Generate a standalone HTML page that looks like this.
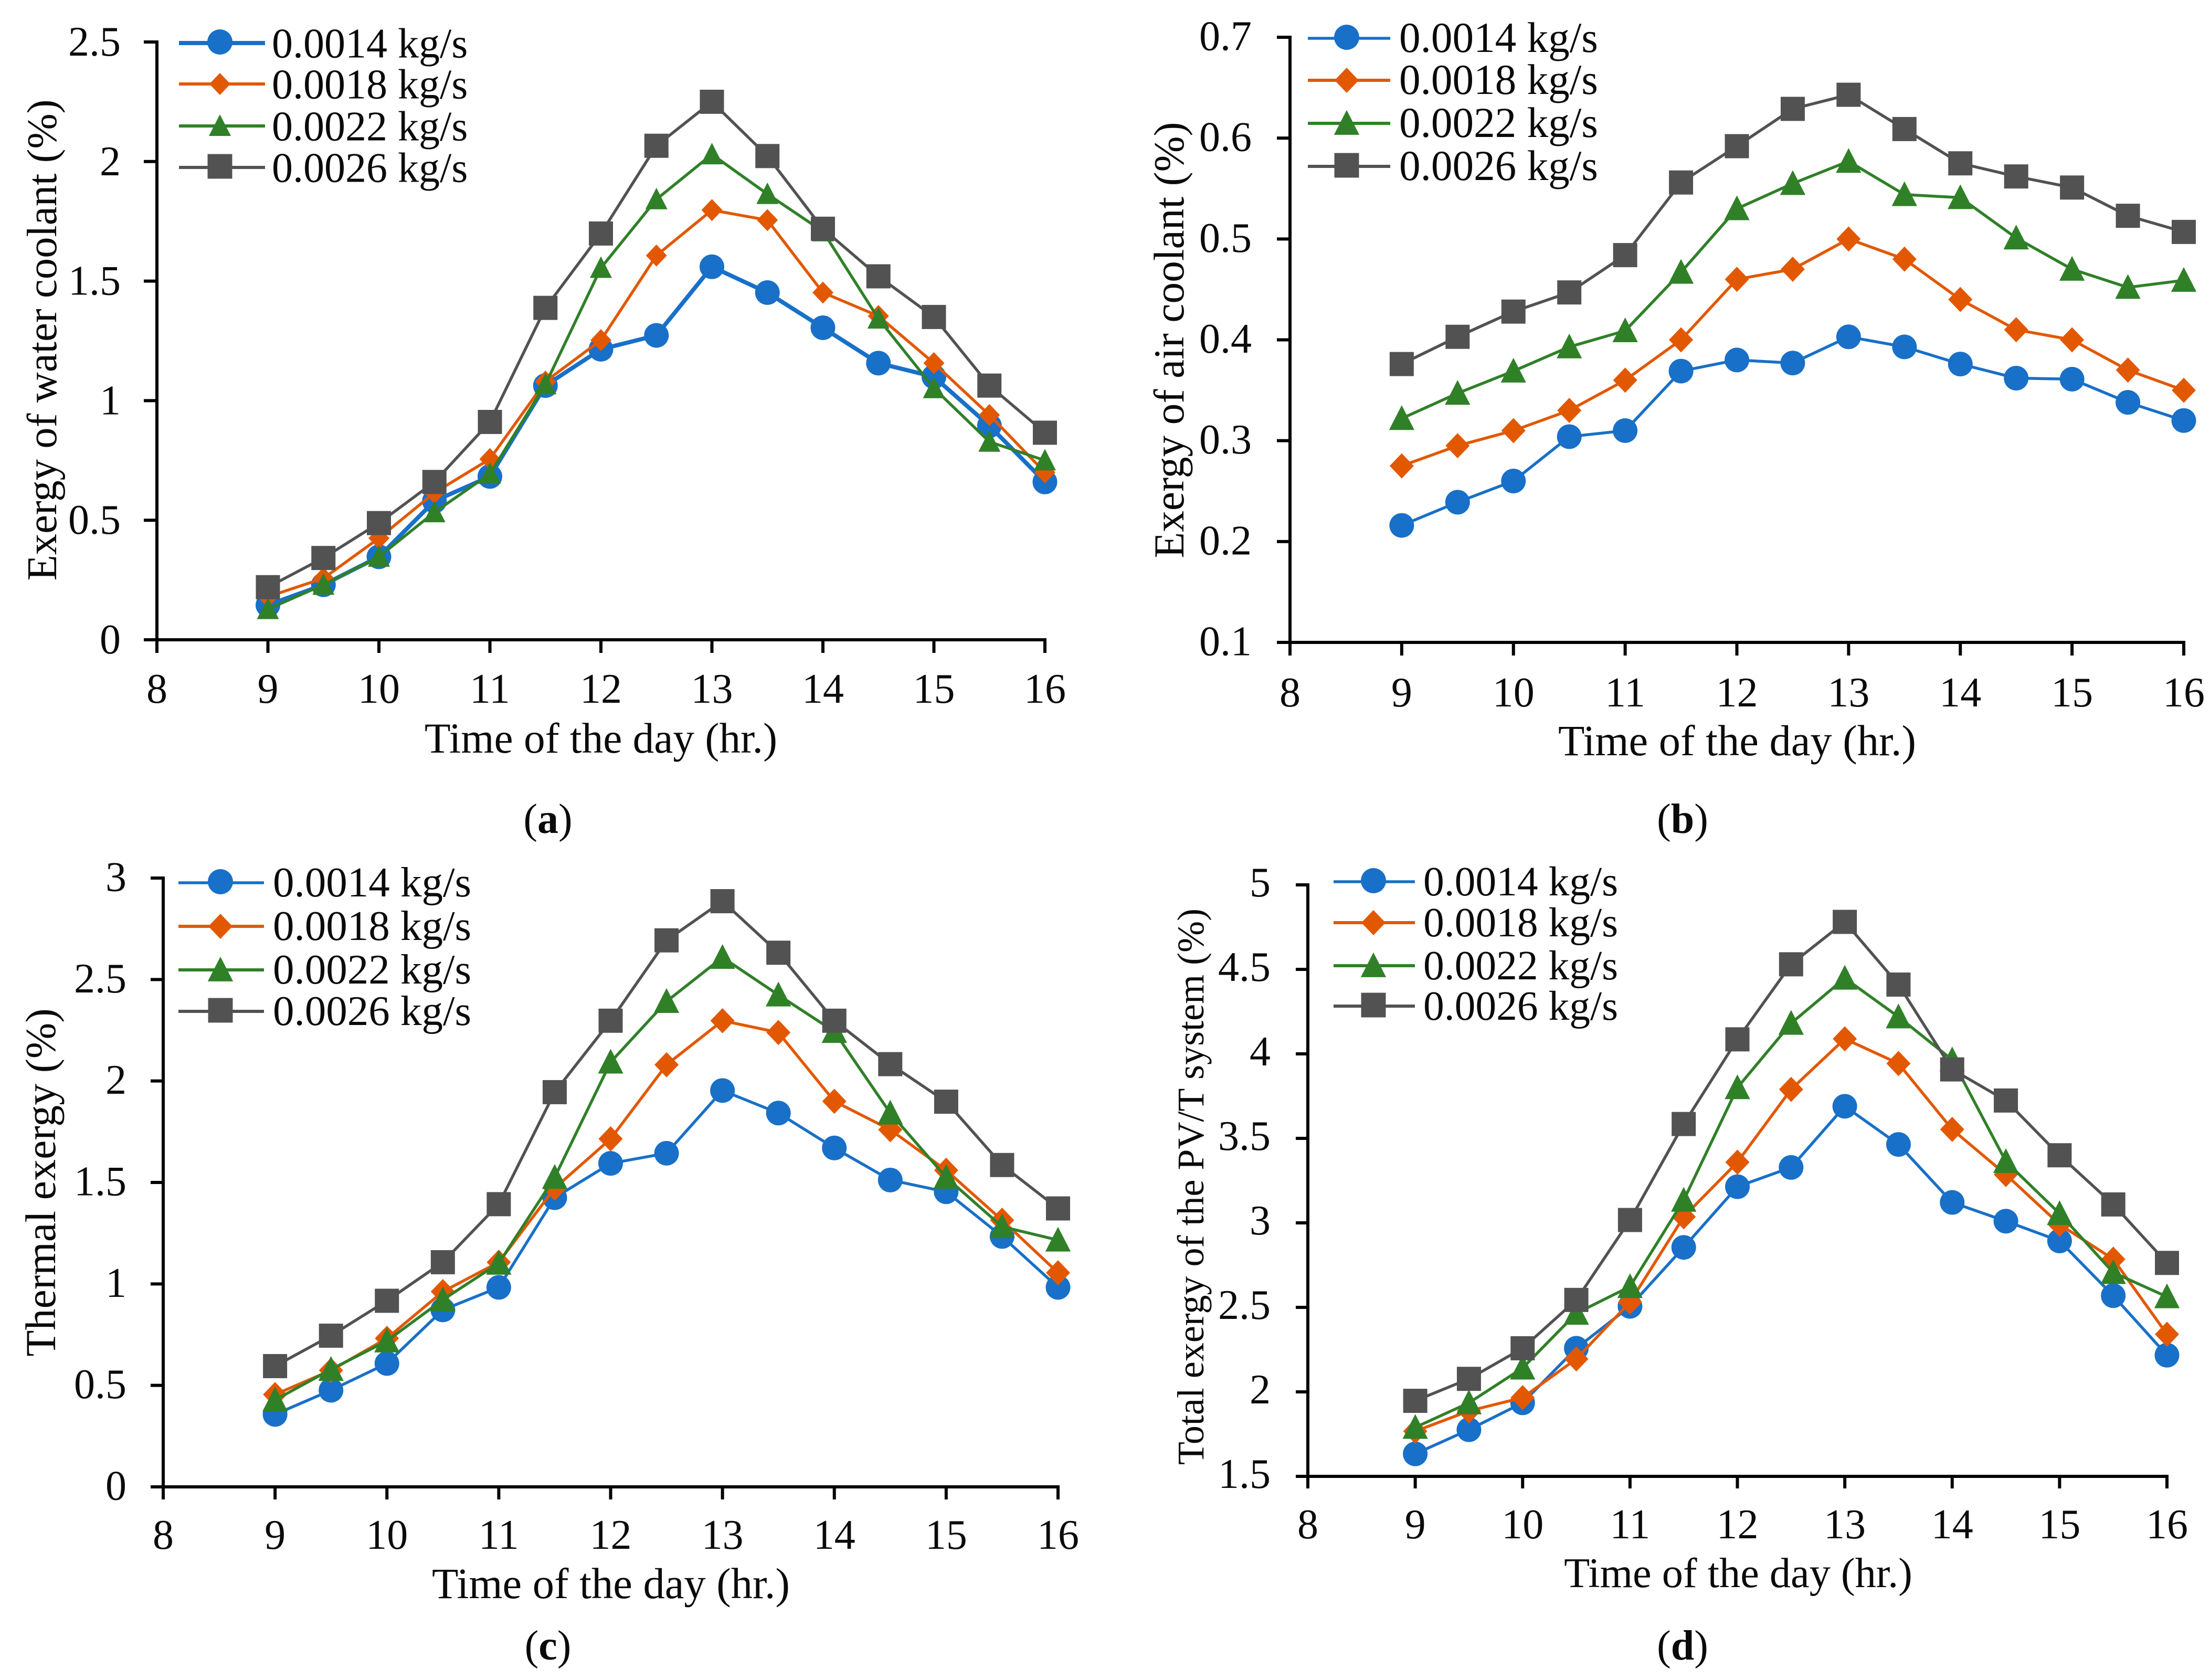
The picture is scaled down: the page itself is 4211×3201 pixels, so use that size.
<!DOCTYPE html>
<html lang="en">
<head>
<meta charset="utf-8">
<title>Exergy of PV/T system by mass flow rate</title>
<style>
html,body{margin:0;padding:0;background:#fff;}
svg{display:block;}
text{font-family:"Liberation Serif","Times New Roman",serif;fill:#0a0a0a;}
</style>
</head>
<body>
<svg id="figure" xmlns="http://www.w3.org/2000/svg" width="4211" height="3201" viewBox="0 0 4211 3201">
  <rect width="4211" height="3201" fill="#ffffff"/>

  <text font-size="80.7" text-anchor="middle" transform="translate(107 648) rotate(-90)">Exergy of water coolant (%)</text>
  <text font-size="81.3" text-anchor="middle" x="1145" y="1434">Time of the day (hr.)</text>
  <text font-size="80" text-anchor="middle" x="1044" y="1587">(<tspan font-weight="bold">a</tspan>)</text>

  <text font-size="81.5" text-anchor="middle" transform="translate(2255 648) rotate(-90)">Exergy of air coolant (%)</text>
  <text font-size="82.5" text-anchor="middle" x="3310" y="1439">Time of the day (hr.)</text>
  <text font-size="80" text-anchor="middle" x="3206" y="1587">(<tspan font-weight="bold">b</tspan>)</text>

  <text font-size="82" text-anchor="middle" transform="translate(105 2253) rotate(-90)">Thermal exergy (%)</text>
  <text font-size="82.5" text-anchor="middle" x="1164" y="3045">Time of the day (hr.)</text>
  <text font-size="80" text-anchor="middle" x="1044" y="3162">(<tspan font-weight="bold">c</tspan>)</text>

  <text font-size="72" text-anchor="middle" transform="translate(2293 2261) rotate(-90)">Total exergy of the PV/T system (%)</text>
  <text font-size="80.3" text-anchor="middle" x="3312" y="3024">Time of the day (hr.)</text>
  <text font-size="80" text-anchor="middle" x="3206" y="3162">(<tspan font-weight="bold">d</tspan>)</text>
</svg>
<script>
// ---- chart data ----
const hours = [9,9.5,10,10.5,11,11.5,12,12.5,13,13.5,14,14.5,15,15.5,16];
const xTickValues = [8,9,10,11,12,13,14,15,16];
const seriesLabels = ['0.0014 kg/s','0.0018 kg/s','0.0022 kg/s','0.0026 kg/s'];

const yTicksA = [0,0.5,1,1.5,2,2.5];
const waterCoolant0014 = [0.145,0.23,0.347,0.58,0.683,1.063,1.215,1.273,1.56,1.452,1.305,1.157,1.10,0.895,0.66];
const waterCoolant0018 = [0.18,0.257,0.425,0.615,0.756,1.08,1.253,1.607,1.797,1.755,1.452,1.354,1.157,0.94,0.70];
const waterCoolant0022 = [0.128,0.23,0.347,0.533,0.694,1.068,1.555,1.842,2.03,1.864,1.708,1.343,1.052,0.828,0.75];
const waterCoolant0026 = [0.22,0.342,0.488,0.66,0.911,1.388,1.699,2.066,2.25,2.023,1.719,1.52,1.35,1.063,0.866];

const yTicksB = [0.1,0.2,0.3,0.4,0.5,0.6,0.7];
const airCoolant0014 = [0.216,0.239,0.26,0.304,0.31,0.369,0.38,0.377,0.403,0.393,0.376,0.362,0.361,0.338,0.32];
const airCoolant0018 = [0.275,0.295,0.31,0.33,0.36,0.40,0.46,0.47,0.50,0.48,0.44,0.41,0.40,0.37,0.35];
const airCoolant0022 = [0.322,0.347,0.369,0.393,0.409,0.467,0.53,0.555,0.577,0.544,0.541,0.501,0.47,0.452,0.459];
const airCoolant0026 = [0.376,0.403,0.428,0.447,0.484,0.556,0.592,0.629,0.643,0.609,0.575,0.562,0.551,0.523,0.507];

const yTicksC = [0,0.5,1,1.5,2,2.5,3];
const thermal0014 = [0.357,0.476,0.608,0.872,0.983,1.425,1.594,1.644,1.953,1.842,1.67,1.512,1.454,1.234,0.983];
const thermal0018 = [0.455,0.574,0.732,0.962,1.107,1.472,1.715,2.08,2.297,2.239,1.90,1.76,1.56,1.314,1.055];
const thermal0022 = [0.428,0.579,0.719,0.922,1.102,1.525,2.093,2.392,2.609,2.424,2.244,1.842,1.525,1.282,1.216];
const thermal0026 = [0.595,0.745,0.917,1.107,1.393,1.945,2.297,2.693,2.886,2.632,2.297,2.083,1.898,1.586,1.372];

const yTicksD = [1.5,2,2.5,3,3.5,4,4.5,5];
const total0014 = [1.633,1.776,1.935,2.258,2.506,2.855,3.214,3.328,3.69,3.464,3.121,3.01,2.893,2.569,2.217];
const total0018 = [1.767,1.887,1.966,2.195,2.531,3.036,3.359,3.79,4.089,3.943,3.553,3.286,2.991,2.785,2.341];
const total0022 = [1.79,1.935,2.141,2.465,2.623,3.134,3.8,4.181,4.448,4.219,3.965,3.363,3.055,2.706,2.563];
const total0026 = [1.947,2.077,2.258,2.544,3.017,3.585,4.086,4.53,4.781,4.41,3.908,3.724,3.4,3.109,2.763];

// ---- layout ----
const NS = 'http://www.w3.org/2000/svg';
const figure = document.getElementById('figure');
const seriesColors = ['#1870c8','#e25800','#308028','#525252'];
const seriesShapes = ['circle','diamond','triangle','square'];

const panels = [
  {id:'a', series:[waterCoolant0014,waterCoolant0018,waterCoolant0022,waterCoolant0026], yTicks:yTicksA,
   left:299, right:1991, bottom:1219, top:80, tickLabelRight:230, tickLen:25, yLabelDy:26, xLabelDy:120, blueWidth:8, sharp:1,
   legendLine:[341,505], legendMarker:419, legendText:518, legendRows:[82,160,240,319], legendTextDy:27.5, legendFont:80},
  {id:'b', series:[airCoolant0014,airCoolant0018,airCoolant0022,airCoolant0026], yTicks:yTicksB,
   left:2458, right:4161, bottom:1224, top:71, tickLabelRight:2385, tickLen:25, yLabelDy:24.5, xLabelDy:122, blueWidth:5.5, sharp:1.15,
   legendLine:[2492,2649], legendMarker:2566, legendText:2666, legendRows:[73,153,235,317], legendTextDy:26, legendFont:81.2},
  {id:'c', series:[thermal0014,thermal0018,thermal0022,thermal0026], yTicks:yTicksC,
   left:311, right:2016, bottom:2833, top:1673, tickLabelRight:241, tickLen:24, yLabelDy:24.5, xLabelDy:118, blueWidth:5.5, sharp:1.15,
   legendLine:[340,503], legendMarker:420, legendText:520, legendRows:[1682,1765,1848,1927], legendTextDy:26, legendFont:81},
  {id:'d', series:[total0014,total0018,total0022,total0026], yTicks:yTicksD,
   left:2492, right:4129, bottom:2813, top:1686, tickLabelRight:2421, tickLen:23, yLabelDy:22, xLabelDy:118, blueWidth:5.5, sharp:1.15,
   legendLine:[2541,2696], legendMarker:2617, legendText:2712, legendRows:[1680,1758,1840,1917], legendTextDy:26, legendFont:79.5}
];

function xScale(p, v){ return p.left + (v - 8) / 8 * (p.right - p.left); }
function yScale(p, v){
  const lo = p.yTicks[0], hi = p.yTicks[p.yTicks.length - 1];
  return p.bottom - (v - lo) / (hi - lo) * (p.bottom - p.top);
}
function make(tag, attrs, parent){
  const el = document.createElementNS(NS, tag);
  for (const k in attrs) el.setAttribute(k, attrs[k]);
  parent.appendChild(el);
  return el;
}
function drawMarker(shape, x, y, color, parent, size, sharp){
  let el;
  if (shape === 'circle') {
    el = make('ellipse', {cx:x, cy:y, rx:23.5*size, ry:23.5*size, fill:color}, parent);
  } else if (shape === 'diamond') {
    const h = 20*sharp;
    el = make('polygon', {points:`${x-h},${y} ${x},${y-h-1} ${x+h},${y} ${x},${y+h+1}`, fill:color}, parent);
  } else if (shape === 'triangle') {
    const w = 21*sharp;
    el = make('polygon', {points:`${x},${y-22*sharp} ${x+w},${y+19*sharp} ${x-w},${y+19*sharp}`, fill:color}, parent);
  } else {
    const h = 23*size;
    el = make('rect', {x:x-h, y:y-h, width:2*h, height:2*h, fill:color}, parent);
  }
  return el;
}

panels.forEach(function(p){
  const group = make('g', {}, figure);
  
  

  // axes
  const yAxis = make('line', {x1:p.left, x2:p.left, y1:p.top-3, y2:p.bottom+p.tickLen, stroke:'#000', 'stroke-width':6}, group);
  
  
  const xAxis = make('line', {x1:p.left-p.tickLen, x2:p.right+3, y1:p.bottom, y2:p.bottom, stroke:'#000', 'stroke-width':6}, group);
  
  

  // y ticks
  p.yTicks.forEach(function(t){
    const y = yScale(p, t);
    const tick = make('line', {x1:p.left-p.tickLen, x2:p.left, y1:y, y2:y, stroke:'#000', 'stroke-width':6}, group);
    
    
    const label = make('text', {x:p.tickLabelRight, y:y+p.yLabelDy, 'text-anchor':'end', 'font-size':80}, group);
    label.textContent = String(t);
    
    
  });

  // x ticks
  xTickValues.forEach(function(t){
    const x = xScale(p, t);
    const tick = make('line', {x1:x, x2:x, y1:p.bottom, y2:p.bottom+p.tickLen, stroke:'#000', 'stroke-width':6}, group);
    
    
    const label = make('text', {x:x, y:p.bottom+p.xLabelDy, 'text-anchor':'middle', 'font-size':80}, group);
    label.textContent = String(t);
    
    
  });

  // series
  p.series.forEach(function(values, s){
    const color = seriesColors[s];
    const width = s === 0 ? p.blueWidth : 5.5;
    const pts = values.map(function(v, i){ return xScale(p, hours[i]) + ',' + yScale(p, v); }).join(' ');
    const line = make('polyline', {points:pts, fill:'none', stroke:color, 'stroke-width':width, 'stroke-linejoin':'round'}, group);
    
    
    values.forEach(function(v, i){
      const m = drawMarker(seriesShapes[s], xScale(p, hours[i]), yScale(p, v), color, group, 1, p.sharp);
      
      
    });
  });

  // legend
  seriesLabels.forEach(function(name, s){
    const y = p.legendRows[s];
    const entry = make('g', {}, group);
    
    
    make('line', {x1:p.legendLine[0], x2:p.legendLine[1], y1:y, y2:y, stroke:seriesColors[s], 'stroke-width': s === 0 ? p.blueWidth : 6}, entry);
    const my = (seriesShapes[s] === 'circle' || seriesShapes[s] === 'square') ? y - 2 : y;
    drawMarker(seriesShapes[s], p.legendMarker, my, seriesColors[s], entry, 1.02, p.sharp);
    const txt = make('text', {x:p.legendText, y:y+p.legendTextDy, 'font-size':p.legendFont}, entry);
    txt.textContent = name;
  });
});
</script>
</body>
</html>
